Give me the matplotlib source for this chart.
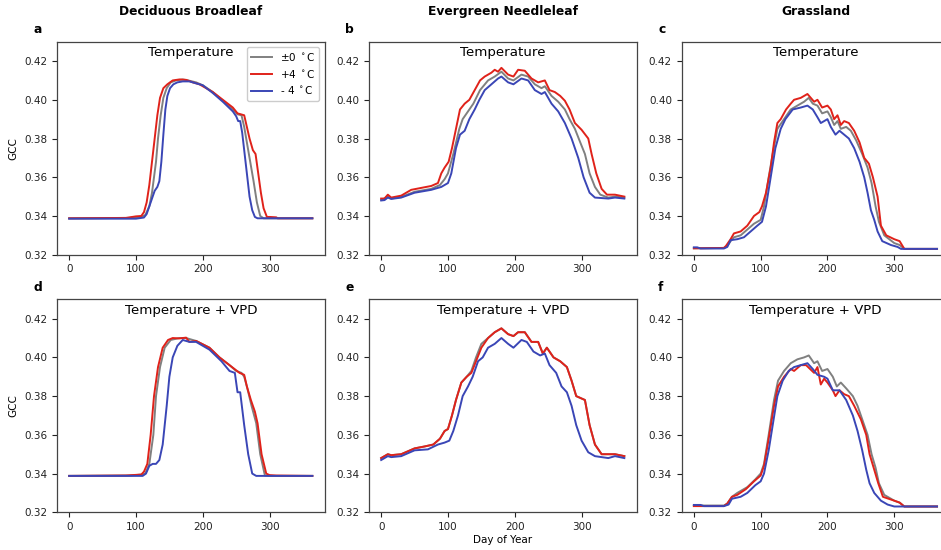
import matplotlib
matplotlib.use("Agg")
import matplotlib.pyplot as plt

# ---------------- data ----------------
column_titles = ["Deciduous Broadleaf", "Evergreen Needleleaf", "Grassland"]
row_labels = ["Temperature", "Temperature + VPD"]
panel_letters = ["a", "b", "c", "d", "e", "f"]
series_labels = ["\u00b10 $^\\circ$C", "+4 $^\\circ$C", "- 4 $^\\circ$C"]

# Panel a: Deciduous Broadleaf, Temperature
a_gray_day = [0, 90, 108, 114, 120, 124, 127, 130, 133, 137, 141, 146, 152, 160, 170, 178, 190, 200, 215, 230, 245, 252, 258, 262, 266, 271, 276, 281, 286, 291, 300, 364]
a_gray_val = [0.3388, 0.3390, 0.3395, 0.3405, 0.345, 0.352, 0.360, 0.368, 0.380, 0.392, 0.401, 0.406, 0.409, 0.410, 0.4105, 0.410, 0.409, 0.4075, 0.404, 0.3995, 0.395, 0.3925, 0.392, 0.386, 0.378, 0.368, 0.358, 0.347, 0.340, 0.3388, 0.3388, 0.3388]
a_red_day = [0, 85, 100, 108, 112, 116, 120, 124, 128, 132, 136, 141, 147, 155, 165, 175, 185, 195, 215, 230, 245, 252, 262, 266, 270, 275, 279, 283, 287, 291, 296, 300, 310, 312, 364]
a_red_val = [0.3388, 0.3390, 0.3398, 0.3400, 0.342, 0.347, 0.356, 0.368, 0.380, 0.392, 0.401, 0.406, 0.408, 0.410, 0.4105, 0.4103, 0.409, 0.408, 0.404, 0.400, 0.396, 0.393, 0.392, 0.386, 0.380, 0.374, 0.372, 0.362, 0.352, 0.344, 0.3395, 0.3395, 0.3393, 0.3388, 0.3388]
a_blue_day = [0, 100, 112, 116, 120, 124, 128, 132, 135, 138, 141, 144, 147, 151, 156, 162, 170, 180, 190, 200, 215, 230, 245, 250, 253, 256, 259, 262, 266, 270, 274, 278, 282, 290, 364]
a_blue_val = [0.3386, 0.3386, 0.3392, 0.341, 0.345, 0.349, 0.353, 0.355, 0.358, 0.368, 0.382, 0.395, 0.402, 0.406, 0.408, 0.409, 0.4095, 0.4095, 0.4085, 0.4075, 0.4035, 0.399, 0.394, 0.3915, 0.389, 0.389, 0.383, 0.374, 0.362, 0.350, 0.343, 0.3395, 0.3388, 0.3388, 0.3388]

# Panel b: Evergreen Needleleaf, Temperature
b_gray_day = [0, 5, 10, 15, 30, 50, 75, 88, 95, 100, 108, 117, 122, 128, 138, 148, 160, 170, 180, 190, 198, 210, 220, 230, 240, 245, 255, 265, 275, 282, 290, 298, 305, 312, 320, 328, 340, 350, 364]
b_gray_val = [0.3485, 0.349, 0.3505, 0.349, 0.3498, 0.3525, 0.354, 0.356, 0.359, 0.362, 0.372, 0.385, 0.390, 0.393, 0.398, 0.405, 0.410, 0.412, 0.4145, 0.411, 0.410, 0.413, 0.412, 0.408, 0.406, 0.407, 0.402, 0.399, 0.395, 0.390, 0.385, 0.378, 0.372, 0.362, 0.355, 0.351, 0.3495, 0.350, 0.3495]
b_red_day = [0, 5, 10, 15, 30, 45, 60, 75, 85, 90, 95, 101, 106, 112, 118, 125, 132, 140, 148, 155, 165, 170, 175, 180, 190, 198, 205, 215, 225, 235, 245, 252, 260, 268, 275, 282, 290, 300, 310, 315, 322, 330, 338, 350, 364]
b_red_val = [0.349, 0.349, 0.351, 0.3495, 0.3505, 0.3535, 0.3545, 0.3555, 0.357, 0.362, 0.365, 0.368, 0.375, 0.385, 0.395, 0.398, 0.400, 0.405, 0.410, 0.412, 0.414, 0.4155, 0.4145, 0.4165, 0.413, 0.412, 0.4155, 0.415, 0.411, 0.409, 0.410, 0.405, 0.404, 0.402, 0.3995, 0.395, 0.388, 0.3845, 0.380, 0.372, 0.362, 0.354, 0.351, 0.351, 0.350]
b_blue_day = [0, 5, 10, 15, 30, 50, 75, 90, 100, 105, 112, 118, 125, 132, 140, 147, 155, 165, 175, 180, 190, 198, 210, 220, 230, 240, 245, 255, 265, 275, 285, 295, 303, 312, 320, 340, 350, 364]
b_blue_val = [0.348, 0.3482, 0.3495, 0.3488, 0.3495, 0.352, 0.3535, 0.355, 0.357, 0.362, 0.375, 0.382, 0.384, 0.390, 0.395, 0.400, 0.405, 0.408, 0.411, 0.412, 0.409, 0.408, 0.411, 0.410, 0.405, 0.403, 0.404, 0.398, 0.394, 0.388, 0.380, 0.370, 0.360, 0.352, 0.3495, 0.349, 0.3495, 0.349]

# Panel c: Grassland, Temperature
c_gray_day = [0, 45, 50, 55, 60, 70, 80, 90, 100, 105, 112, 118, 125, 135, 145, 155, 165, 172, 178, 185, 192, 200, 205, 210, 215, 220, 228, 235, 243, 252, 260, 266, 272, 277, 285, 300, 308, 315, 364]
c_gray_val = [0.3233, 0.3235, 0.3245, 0.327, 0.329, 0.330, 0.333, 0.336, 0.338, 0.345, 0.360, 0.372, 0.385, 0.390, 0.395, 0.397, 0.399, 0.401, 0.398, 0.397, 0.393, 0.394, 0.391, 0.387, 0.389, 0.385, 0.386, 0.384, 0.379, 0.372, 0.365, 0.357, 0.345, 0.337, 0.330, 0.326, 0.325, 0.323, 0.323]
c_red_day = [0, 45, 48, 55, 60, 70, 80, 90, 98, 102, 108, 115, 120, 125, 130, 138, 145, 150, 160, 170, 175, 180, 185, 192, 200, 205, 210, 215, 220, 225, 232, 240, 248, 255, 262, 268, 275, 280, 288, 300, 308, 315, 364]
c_red_val = [0.3233, 0.3235, 0.3245, 0.328, 0.331, 0.332, 0.335, 0.340, 0.342, 0.345, 0.352, 0.365, 0.378, 0.388, 0.390, 0.395, 0.398, 0.400, 0.401, 0.403, 0.401, 0.399, 0.400, 0.396, 0.397, 0.395, 0.390, 0.392, 0.387, 0.389, 0.388, 0.384, 0.378, 0.370, 0.367, 0.360, 0.350, 0.335, 0.330, 0.328, 0.327, 0.323, 0.323]
c_blue_day = [0, 5, 10, 45, 50, 55, 65, 75, 85, 95, 102, 108, 115, 122, 130, 137, 148, 160, 170, 178, 185, 190, 200, 205, 212, 218, 225, 232, 240, 248, 255, 260, 265, 270, 275, 282, 295, 305, 310, 364]
c_blue_val = [0.3238, 0.3238, 0.3232, 0.3232, 0.324, 0.3275, 0.328, 0.329, 0.332, 0.335, 0.337, 0.345, 0.360, 0.375, 0.385, 0.390, 0.395, 0.396, 0.397, 0.395, 0.391, 0.388, 0.390, 0.386, 0.382, 0.384, 0.382, 0.380, 0.375, 0.368, 0.360, 0.352, 0.343, 0.338, 0.332, 0.327, 0.325, 0.324, 0.323, 0.323]

# Panel d: Deciduous Broadleaf, Temperature + VPD
d_gray_day = [0, 90, 110, 114, 120, 126, 130, 136, 143, 152, 165, 175, 190, 210, 225, 240, 250, 258, 262, 266, 273, 280, 286, 293, 300, 364]
d_gray_val = [0.3388, 0.3390, 0.3395, 0.340, 0.345, 0.360, 0.380, 0.395, 0.405, 0.409, 0.410, 0.410, 0.4085, 0.405, 0.400, 0.396, 0.393, 0.392, 0.390, 0.385, 0.375, 0.366, 0.350, 0.339, 0.3388, 0.3388]
d_red_day = [0, 85, 108, 112, 117, 122, 127, 133, 140, 148, 155, 165, 175, 180, 190, 210, 225, 240, 255, 262, 266, 272, 278, 282, 288, 295, 300, 310, 364]
d_red_val = [0.3388, 0.3390, 0.3395, 0.341, 0.345, 0.360, 0.380, 0.395, 0.405, 0.409, 0.410, 0.4098, 0.4102, 0.408, 0.4085, 0.405, 0.400, 0.396, 0.392, 0.391, 0.385, 0.378, 0.372, 0.366, 0.350, 0.340, 0.3392, 0.3390, 0.3388]
d_blue_day = [0, 110, 115, 120, 125, 130, 135, 140, 146, 150, 155, 162, 170, 180, 190, 210, 228, 240, 248, 252, 256, 262, 268, 274, 280, 364]
d_blue_val = [0.3388, 0.3388, 0.340, 0.344, 0.345, 0.345, 0.347, 0.355, 0.375, 0.390, 0.400, 0.406, 0.409, 0.408, 0.408, 0.404, 0.398, 0.393, 0.392, 0.382, 0.382, 0.365, 0.350, 0.340, 0.3388, 0.3388]

# Panel e: Evergreen Needleleaf, Temperature + VPD
e_gray_day = [0, 10, 15, 30, 50, 65, 78, 88, 95, 100, 106, 112, 120, 128, 135, 142, 150, 160, 170, 180, 190, 198, 205, 215, 225, 235, 242, 248, 258, 268, 278, 285, 292, 305, 312, 320, 330, 350, 364]
e_gray_val = [0.348, 0.350, 0.3495, 0.350, 0.353, 0.354, 0.355, 0.358, 0.362, 0.363, 0.370, 0.378, 0.387, 0.390, 0.393, 0.400, 0.407, 0.410, 0.413, 0.415, 0.412, 0.411, 0.413, 0.413, 0.408, 0.408, 0.402, 0.405, 0.400, 0.398, 0.395, 0.388, 0.380, 0.378, 0.365, 0.355, 0.350, 0.350, 0.349]
e_red_day = [0, 10, 15, 30, 50, 65, 78, 88, 95, 100, 106, 112, 120, 128, 135, 142, 150, 160, 170, 180, 190, 198, 205, 215, 225, 235, 242, 248, 258, 268, 278, 285, 292, 305, 312, 320, 330, 350, 364]
e_red_val = [0.348, 0.350, 0.3495, 0.350, 0.353, 0.354, 0.355, 0.358, 0.362, 0.363, 0.370, 0.378, 0.387, 0.390, 0.392, 0.398, 0.405, 0.410, 0.413, 0.415, 0.412, 0.411, 0.413, 0.413, 0.408, 0.408, 0.402, 0.405, 0.400, 0.398, 0.395, 0.388, 0.380, 0.378, 0.365, 0.355, 0.350, 0.350, 0.349]
e_blue_day = [0, 10, 15, 30, 50, 70, 85, 95, 102, 108, 115, 122, 130, 137, 145, 152, 160, 170, 180, 190, 198, 210, 218, 228, 238, 245, 252, 262, 270, 278, 285, 292, 300, 310, 320, 340, 350, 364]
e_blue_val = [0.347, 0.349, 0.3485, 0.349, 0.352, 0.3525, 0.355, 0.356, 0.357, 0.362, 0.370, 0.380, 0.385, 0.390, 0.398, 0.400, 0.405, 0.407, 0.410, 0.407, 0.405, 0.409, 0.408, 0.403, 0.401, 0.402, 0.396, 0.392, 0.385, 0.382, 0.375, 0.365, 0.357, 0.351, 0.349, 0.348, 0.349, 0.348]

# Panel f: Grassland, Temperature + VPD
f_gray_day = [0, 45, 50, 57, 65, 80, 92, 100, 105, 112, 120, 126, 135, 145, 155, 165, 172, 180, 185, 192, 200, 208, 214, 220, 228, 238, 245, 252, 260, 266, 272, 277, 285, 300, 308, 315, 364]
f_gray_val = [0.3235, 0.3235, 0.3245, 0.328, 0.330, 0.333, 0.337, 0.340, 0.345, 0.360, 0.378, 0.388, 0.393, 0.397, 0.399, 0.400, 0.401, 0.397, 0.398, 0.393, 0.394, 0.390, 0.385, 0.387, 0.384, 0.380, 0.375, 0.368, 0.360, 0.350, 0.343, 0.335, 0.329, 0.326, 0.325, 0.323, 0.323]
f_red_day = [0, 45, 50, 57, 65, 78, 90, 100, 105, 112, 120, 126, 135, 145, 150, 160, 168, 180, 185, 190, 195, 200, 208, 212, 218, 225, 232, 240, 250, 258, 263, 270, 276, 283, 300, 308, 315, 364]
f_red_val = [0.3232, 0.3232, 0.3245, 0.328, 0.329, 0.332, 0.336, 0.339, 0.344, 0.358, 0.375, 0.385, 0.390, 0.394, 0.393, 0.396, 0.396, 0.392, 0.395, 0.386, 0.389, 0.387, 0.383, 0.380, 0.383, 0.381, 0.380, 0.375, 0.368, 0.360, 0.350, 0.342, 0.335, 0.328, 0.326, 0.325, 0.323, 0.323]
f_blue_day = [0, 10, 15, 45, 52, 57, 70, 80, 92, 100, 105, 112, 118, 125, 133, 142, 150, 160, 170, 178, 185, 195, 200, 208, 218, 228, 238, 245, 252, 258, 263, 270, 280, 290, 300, 364]
f_blue_val = [0.3238, 0.3238, 0.3232, 0.3232, 0.324, 0.327, 0.328, 0.330, 0.334, 0.336, 0.340, 0.352, 0.365, 0.380, 0.388, 0.393, 0.395, 0.396, 0.397, 0.394, 0.391, 0.390, 0.389, 0.383, 0.383, 0.378, 0.370, 0.362, 0.352, 0.342, 0.335, 0.330, 0.326, 0.324, 0.323, 0.323]

y_ticks = [0.32, 0.34, 0.36, 0.38, 0.40, 0.42]
x_ticks = [0, 100, 200, 300]

panels = [
    [(a_gray_day, a_gray_val), (a_red_day, a_red_val), (a_blue_day, a_blue_val)],
    [(b_gray_day, b_gray_val), (b_red_day, b_red_val), (b_blue_day, b_blue_val)],
    [(c_gray_day, c_gray_val), (c_red_day, c_red_val), (c_blue_day, c_blue_val)],
    [(d_gray_day, d_gray_val), (d_red_day, d_red_val), (d_blue_day, d_blue_val)],
    [(e_gray_day, e_gray_val), (e_red_day, e_red_val), (e_blue_day, e_blue_val)],
    [(f_gray_day, f_gray_val), (f_red_day, f_red_val), (f_blue_day, f_blue_val)],
]

# ---------------- styling ----------------
colors = ["#808080", "#e0221a", "#3a46b6"]
W, H = 941, 550
fig = plt.figure(figsize=(W / 100, H / 100), dpi=100)

lefts = [57, 369, 681.7]
width = 267.5
tops = [41.7, 299.3]
height = 213

axes = []
for r in range(2):
    for c in range(3):
        ax = fig.add_axes([lefts[c] / W, 1 - (tops[r] + height) / H, width / W, height / H])
        axes.append(ax)

for i, ax in enumerate(axes):
    r, c = divmod(i, 3)
    for j, (dd, vv) in enumerate(panels[i]):
        ax.plot(dd, vv, color=colors[j], lw=1.4, label=series_labels[j])
    ax.set_ylim(0.32, 0.43)
    ax.set_xlim(-18.2, 382.2)
    ax.set_yticks(y_ticks)
    ax.set_xticks(x_ticks)
    ax.tick_params(labelsize=7.5, length=3.5, width=0.8, colors="#222222")
    for s in ax.spines.values():
        s.set_linewidth(0.9)
        s.set_color("#444444")
    ax.text(0.5, 0.978, row_labels[r], transform=ax.transAxes, ha="center", va="top", fontsize=9.6)
    ax.text(-0.088, 1.025, panel_letters[i], transform=ax.transAxes, ha="left", va="bottom",
            fontsize=8.8, fontweight="bold")
    if c == 0:
        ax.set_ylabel("GCC", fontsize=7.5, labelpad=4)
    if r == 0:
        ax.text(0.5, 1 + 30 / height, column_titles[c], transform=ax.transAxes, ha="center",
                va="center", fontsize=8.8, fontweight="bold")
    if i == 4:
        ax.set_xlabel("Day of Year", fontsize=7.5, labelpad=2)
    if i == 0:
        ax.legend(loc="upper right", fontsize=7.5, handlelength=2.0, borderpad=0.4,
                  labelspacing=0.45, framealpha=1.0, edgecolor="#cccccc")

fig.savefig("out.png", dpi=100)
